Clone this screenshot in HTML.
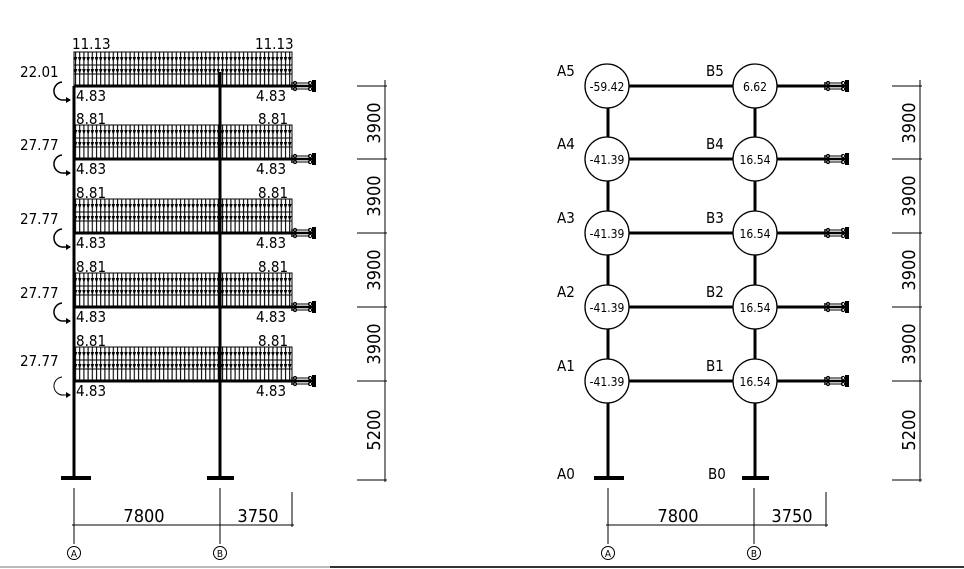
<!DOCTYPE html>
<html><head><style>body{margin:0;background:#fff}svg{display:block}text{font-family:"Liberation Sans Narrow","DejaVu Sans Condensed","Liberation Sans",sans-serif;fill:#000}</style></head>
<body>
<svg width="964" height="569" viewBox="0 0 964 569" xmlns="http://www.w3.org/2000/svg">
<defs>
<pattern id="ld" x="74" y="0" width="4.2" height="40" patternUnits="userSpaceOnUse">
<line x1="1.5" y1="0" x2="1.5" y2="40" stroke="#000" stroke-width="1.1"/>
<path d="M-0.4 8 L1.5 13 L3.4 8Z M-0.4 17 L1.5 22 L3.4 17Z M-0.4 29 L1.5 34 L3.4 29Z" fill="#000"/>
</pattern>
</defs>
<g stroke="#000" fill="none">
<line x1="74" y1="86" x2="74" y2="477" stroke-width="3"/>
<line x1="220" y1="72" x2="220" y2="477" stroke-width="3"/>
<line x1="61" y1="478" x2="91" y2="478" stroke-width="4"/>
<line x1="207" y1="478" x2="234" y2="478" stroke-width="4"/>
</g>
<g id="L1">
<rect x="74" y="52" width="218" height="34" fill="url(#ld)" stroke="#000" stroke-width="1"/>
<line x1="74" y1="65" x2="292" y2="65" stroke="#000" stroke-width="1"/>
<line x1="74" y1="74" x2="292" y2="74" stroke="#000" stroke-width="1"/>
</g>
<use href="#L1" y="73"/><use href="#L1" y="147"/><use href="#L1" y="221"/><use href="#L1" y="295"/>
<g stroke="#000" stroke-width="3">
<line x1="74" y1="86" x2="292" y2="86"/><line x1="74" y1="159" x2="292" y2="159"/><line x1="74" y1="233" x2="292" y2="233"/><line x1="74" y1="307" x2="292" y2="307"/><line x1="74" y1="381" x2="292" y2="381"/>
</g>
<g id="S1" transform="translate(292 86)" stroke="#000" fill="none">
<line x1="0" y1="0" x2="24" y2="0" stroke-width="2.5"/>
<line x1="0" y1="-4" x2="0" y2="4" stroke-width="1.5"/>
<line x1="1" y1="-3" x2="18" y2="-3" stroke-width="1"/>
<line x1="1" y1="3" x2="18" y2="3" stroke-width="1"/>
<circle cx="3" cy="-3" r="1.6"/><circle cx="3" cy="3" r="1.6"/>
<circle cx="18" cy="-3" r="1.6"/><circle cx="18" cy="3" r="1.6"/>
<rect x="20" y="-6" width="4" height="12" fill="#000" stroke="none"/>
</g>
<use href="#S1" y="73"/><use href="#S1" y="147"/><use href="#S1" y="221"/><use href="#S1" y="295"/>
<use href="#S1" x="533"/><use href="#S1" x="533" y="73"/><use href="#S1" x="533" y="147"/><use href="#S1" x="533" y="221"/><use href="#S1" x="533" y="295"/>
<g font-size="15" font-weight="300">
<text x="72" y="49">11.13</text><text x="255" y="49">11.13</text>
<text x="20" y="77">22.01</text>
<text x="76" y="101">4.83</text><text x="256" y="101">4.83</text>
<text x="76" y="124">8.81</text><text x="258" y="124">8.81</text><text x="20" y="150">27.77</text><text x="76" y="174">4.83</text><text x="256" y="174">4.83</text>
<text x="76" y="198">8.81</text><text x="258" y="198">8.81</text><text x="20" y="224">27.77</text><text x="76" y="248">4.83</text><text x="256" y="248">4.83</text>
<text x="76" y="272">8.81</text><text x="258" y="272">8.81</text><text x="20" y="298">27.77</text><text x="76" y="322">4.83</text><text x="256" y="322">4.83</text>
<text x="76" y="346">8.81</text><text x="258" y="346">8.81</text><text x="20" y="366">27.77</text><text x="76" y="396">4.83</text><text x="256" y="396">4.83</text>
</g>
<g fill="none" stroke="#000" stroke-width="1.5">
<path d="M62 82 A9 9 0 0 0 64 100 L70 100"/><path d="M62 155 A9 9 0 0 0 64 173 L70 173"/><path d="M62 229 A9 9 0 0 0 64 247 L70 247"/><path d="M62 303 A9 9 0 0 0 64 321 L70 321"/><path d="M62 377 A9 9 0 0 0 64 395 L70 395" stroke-width="1"/>
</g>
<g fill="#000"><path d="M71 100 L66 97 L66 103Z"/><path d="M71 173 L66 170 L66 176Z"/><path d="M71 247 L66 244 L66 250Z"/><path d="M71 321 L66 318 L66 324Z"/><path d="M71 395 L66 392 L66 398Z"/></g>
<g stroke="#000" stroke-width="3">
<line x1="608" y1="86" x2="608" y2="477"/><line x1="755" y1="86" x2="755" y2="477"/>
<line x1="608" y1="86" x2="825" y2="86"/><line x1="608" y1="159" x2="825" y2="159"/><line x1="608" y1="233" x2="825" y2="233"/><line x1="608" y1="307" x2="825" y2="307"/><line x1="608" y1="381" x2="825" y2="381"/>
<line x1="594" y1="478" x2="624" y2="478" stroke-width="4"/><line x1="742" y1="478" x2="769" y2="478" stroke-width="4"/>
</g>
<g fill="#fff" stroke="#000" stroke-width="1.3">
<circle cx="607" cy="86" r="22"/><circle cx="755" cy="86" r="22"/>
<circle cx="607" cy="159" r="22"/><circle cx="755" cy="159" r="22"/>
<circle cx="607" cy="233" r="22"/><circle cx="755" cy="233" r="22"/>
<circle cx="607" cy="307" r="22"/><circle cx="755" cy="307" r="22"/>
<circle cx="607" cy="381" r="22"/><circle cx="755" cy="381" r="22"/>
</g>
<g font-size="12" text-anchor="middle">
<text x="607" y="91">-59.42</text><text x="755" y="91">6.62</text>
<text x="607" y="164">-41.39</text><text x="755" y="164">16.54</text>
<text x="607" y="238">-41.39</text><text x="755" y="238">16.54</text>
<text x="607" y="312">-41.39</text><text x="755" y="312">16.54</text>
<text x="607" y="386">-41.39</text><text x="755" y="386">16.54</text>
</g>
<g font-size="15" font-weight="300">
<text x="557" y="76">A5</text><text x="706" y="76">B5</text>
<text x="557" y="149">A4</text><text x="706" y="149">B4</text>
<text x="557" y="223">A3</text><text x="706" y="223">B3</text>
<text x="557" y="297">A2</text><text x="706" y="297">B2</text>
<text x="557" y="371">A1</text><text x="706" y="371">B1</text>
<text x="557" y="479">A0</text><text x="708" y="479">B0</text>
</g>
<g id="VD" stroke="#000" stroke-width="1" fill="none">
<line x1="385" y1="80" x2="385" y2="482"/>
<line x1="357" y1="86" x2="387" y2="86"/><line x1="357" y1="159" x2="387" y2="159"/><line x1="357" y1="233" x2="387" y2="233"/><line x1="357" y1="307" x2="387" y2="307"/><line x1="357" y1="381" x2="387" y2="381"/><line x1="357" y1="480" x2="387" y2="480"/>
</g>
<g font-size="18" font-weight="300" text-anchor="middle">
<text transform="translate(380 123) rotate(-90)">3900</text>
<text transform="translate(380 196) rotate(-90)">3900</text>
<text transform="translate(380 270) rotate(-90)">3900</text>
<text transform="translate(380 344) rotate(-90)">3900</text>
<text transform="translate(380 430) rotate(-90)">5200</text>
</g>
<use href="#VD" x="535"/>
<g font-size="18" font-weight="300" text-anchor="middle">
<text transform="translate(915 123) rotate(-90)">3900</text>
<text transform="translate(915 196) rotate(-90)">3900</text>
<text transform="translate(915 270) rotate(-90)">3900</text>
<text transform="translate(915 344) rotate(-90)">3900</text>
<text transform="translate(915 430) rotate(-90)">5200</text>
</g>
<g id="HD" stroke="#000" stroke-width="1" fill="none">
<line x1="74" y1="488" x2="74" y2="544"/><line x1="220" y1="488" x2="220" y2="544"/><line x1="292" y1="492" x2="292" y2="527"/>
<line x1="72" y1="525" x2="294" y2="525"/>
<circle cx="74" cy="553" r="6.5"/><circle cx="220" cy="553" r="6.5"/>
</g>
<g font-size="18" font-weight="300" text-anchor="middle"><text x="144" y="522">7800</text><text x="258" y="522">3750</text></g>
<g font-size="10" text-anchor="middle"><text x="74" y="557">A</text><text x="220" y="557">B</text></g>
<use href="#HD" x="534"/>
<g font-size="18" font-weight="300" text-anchor="middle"><text x="678" y="522">7800</text><text x="792" y="522">3750</text></g>
<g font-size="10" text-anchor="middle"><text x="608" y="557">A</text><text x="754" y="557">B</text></g>
<line x1="0" y1="567" x2="330" y2="567" stroke="#bbb" stroke-width="2"/>
<line x1="330" y1="567" x2="964" y2="567" stroke="#333" stroke-width="2"/>
</svg>
</body></html>
